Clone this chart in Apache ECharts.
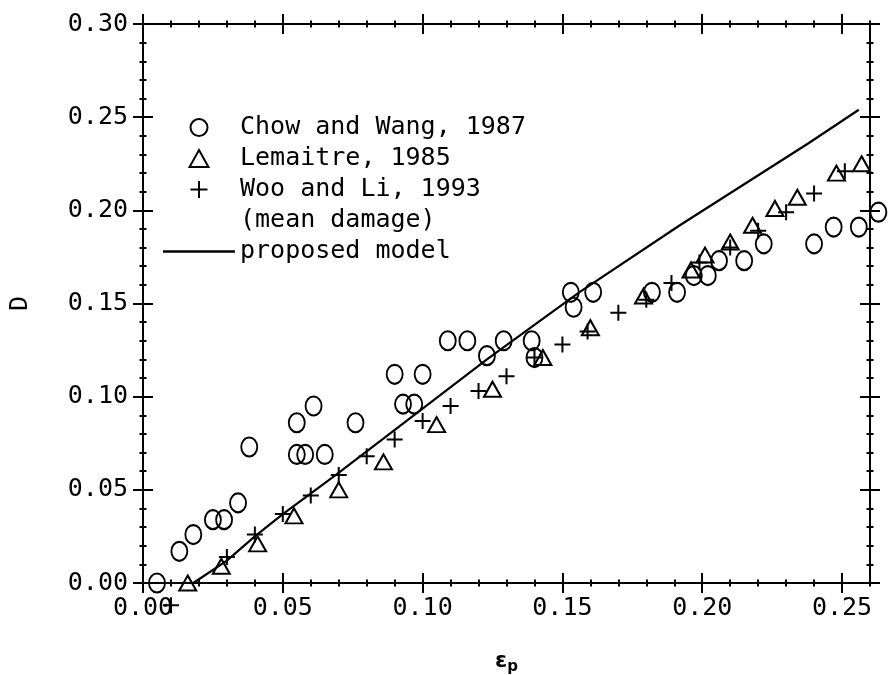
<!DOCTYPE html>
<html>
<head>
<meta charset="utf-8">
<script src="https://cdn.jsdelivr.net/npm/echarts@6/dist/echarts.min.js"></script>
<style>
  html, body { margin: 0; background: #fff; }
  #chart { width: 888px; height: 675px; }
</style>
</head>
<body>
<div id="chart"></div>
<script>
// tick labels
const xTicks = [0, 0.05, 0.10, 0.15, 0.20, 0.25];
const yTicks = [0, 0.05, 0.10, 0.15, 0.20, 0.25, 0.30];

// [eps_p, D]
const chowWang = [
  [0.005, 0.000], [0.013, 0.017], [0.018, 0.026], [0.025, 0.034], [0.029, 0.034],
  [0.034, 0.043], [0.038, 0.073], [0.055, 0.086], [0.055, 0.069], [0.058, 0.069],
  [0.061, 0.095], [0.065, 0.069], [0.076, 0.086], [0.090, 0.112], [0.093, 0.096],
  [0.097, 0.096], [0.100, 0.112], [0.109, 0.130], [0.116, 0.130], [0.123, 0.122],
  [0.129, 0.130], [0.139, 0.130], [0.140, 0.121], [0.153, 0.156], [0.154, 0.148],
  [0.161, 0.156], [0.182, 0.156], [0.191, 0.156], [0.197, 0.165], [0.202, 0.165],
  [0.206, 0.173], [0.215, 0.173], [0.222, 0.182], [0.240, 0.182], [0.247, 0.191],
  [0.256, 0.191], [0.263, 0.199]
];
const lemaitre = [
  [0.016, 0.000], [0.028, 0.009], [0.041, 0.021], [0.054, 0.036], [0.070, 0.050],
  [0.086, 0.065], [0.105, 0.085], [0.125, 0.104], [0.143, 0.121], [0.160, 0.137],
  [0.179, 0.154], [0.196, 0.168], [0.201, 0.176], [0.210, 0.183], [0.218, 0.192],
  [0.226, 0.201], [0.234, 0.207], [0.248, 0.220], [0.257, 0.225]
];
const wooLi = [
  [0.010, -0.012], [0.030, 0.014], [0.040, 0.026], [0.050, 0.037], [0.060, 0.047],
  [0.070, 0.058], [0.080, 0.068], [0.090, 0.077], [0.100, 0.087], [0.110, 0.095],
  [0.120, 0.103], [0.130, 0.111], [0.140, 0.121], [0.150, 0.128], [0.159, 0.135],
  [0.170, 0.145], [0.180, 0.152], [0.189, 0.161], [0.199, 0.172], [0.210, 0.180],
  [0.220, 0.189], [0.230, 0.199], [0.240, 0.209], [0.251, 0.221]
];
const model = [
  [0.018, 0.000], [0.030, 0.012], [0.040, 0.025], [0.050, 0.037], [0.069, 0.058],
  [0.089, 0.081], [0.123, 0.120], [0.156, 0.156], [0.192, 0.192], [0.238, 0.236],
  [0.256, 0.254]
];

const X_MAX = 0.26;
const Y_MAX = 0.30;
const FONT = 'DejaVu Sans Mono';

// minor ticks every 0.01
const minorTicks = (max) => {
  const out = [];
  for (let i = 0; i <= Math.round(max * 100); i++) out.push(+(i * 0.01).toFixed(2));
  return out;
};

// ticks cross the frame: axis pulled inward by half the tick length
function tickAxis(position, max, values, len, labels) {
  return {
    type: 'value',
    position,
    min: 0,
    max,
    offset: -len / 2,
    axisLine: { show: false, onZero: false },
    splitLine: { show: false },
    axisTick: { show: true, inside: false, length: len, customValues: values,
      lineStyle: { color: '#000', width: 2 } },
    axisLabel: labels
      ? { show: true, customValues: values, margin: len / 2 + 15, color: '#000',
          fontFamily: FONT, fontSize: 25, formatter: v => v.toFixed(2) }
      : { show: false },
  };
}

const chart = echarts.init(document.getElementById('chart'));

const xBottom = tickAxis('bottom', X_MAX, xTicks, 20, true);
xBottom.axisLabel.margin = 23;
Object.assign(xBottom, {
  name: '{e|ε}{p|p}',
  nameLocation: 'middle',
  nameGap: 75,
  nameTextStyle: {
    rich: {
      e: { fontSize: 22, fontWeight: 'bold', fontFamily: 'DejaVu Sans', color: '#000' },
      p: { fontSize: 15, fontWeight: 'bold', fontFamily: 'DejaVu Sans', color: '#000', padding: [12, 0, 0, 0] },
    },
  },
});

const yLeft = tickAxis('left', Y_MAX, yTicks, 20, true);
Object.assign(yLeft, {
  name: 'D',
  nameLocation: 'middle',
  nameRotate: 90,
  nameGap: 120,
  nameTextStyle: { color: '#000', fontFamily: FONT, fontSize: 25 },
});

const plusSymbol = 'path://M5,0L5,10M0,5L10,5';
const triangleIcon = 'path://M5,0L10,9L0,9Z';
const hollow = { color: 'none', borderColor: '#000', borderWidth: 2, opacity: 1 };

chart.setOption({
  animation: false,
  backgroundColor: '#fff',
  grid: {
    left: 143, right: 18, top: 24, bottom: 92,
    outerBoundsMode: 'none',
    containLabel: false,
    show: true, borderColor: '#000', borderWidth: 2, backgroundColor: 'transparent',
  },
  legend: {
    orient: 'vertical',
    left: 158,
    top: 110,
    itemWidth: 72,
    itemHeight: 17,
    itemGap: 6,
    symbolKeepAspect: true,
    selectedMode: false,
    textStyle: { color: '#000', fontFamily: FONT, fontSize: 25, lineHeight: 21 },
    data: [
      'Chow and Wang, 1987',
      { name: 'Lemaitre, 1985', icon: triangleIcon },
      'Woo and Li, 1993',
      { name: '(mean damage)', icon: 'none' },
      { name: 'proposed model', icon: 'path://M0,0H63V2H0Z' },
    ],
  },
  xAxis: [
    xBottom,
    tickAxis('bottom', X_MAX, minorTicks(X_MAX), 7, false),
    tickAxis('top', X_MAX, xTicks, 20, false),
    tickAxis('top', X_MAX, minorTicks(X_MAX), 7, false),
  ],
  yAxis: [
    yLeft,
    tickAxis('left', Y_MAX, minorTicks(Y_MAX), 7, false),
    tickAxis('right', Y_MAX, yTicks, 20, false),
    tickAxis('right', Y_MAX, minorTicks(Y_MAX), 7, false),
  ],
  series: [
    {
      name: 'Chow and Wang, 1987',
      type: 'scatter',
      symbol: 'circle',
      symbolSize: [16, 19],
      itemStyle: hollow,
      clip: false,
      data: chowWang,
    },
    {
      name: 'Lemaitre, 1985',
      type: 'scatter',
      symbol: 'triangle',
      symbolSize: [17, 15],
      itemStyle: hollow,
      clip: false,
      data: lemaitre,
    },
    {
      name: 'Woo and Li, 1993',
      type: 'scatter',
      symbol: plusSymbol,
      symbolSize: 16,
      itemStyle: hollow,
      clip: false,
      data: wooLi,
    },
    {
      name: '(mean damage)',
      type: 'scatter',
      symbol: 'none',
      itemStyle: { color: 'none' },
      data: [],
    },
    {
      name: 'proposed model',
      type: 'line',
      symbol: 'none',
      lineStyle: { color: '#000', width: 2.2 },
      itemStyle: { color: '#000' },
      clip: false,
      data: model,
    },
  ],
});

window.addEventListener('resize', () => chart.resize());
</script>
</body>
</html>
